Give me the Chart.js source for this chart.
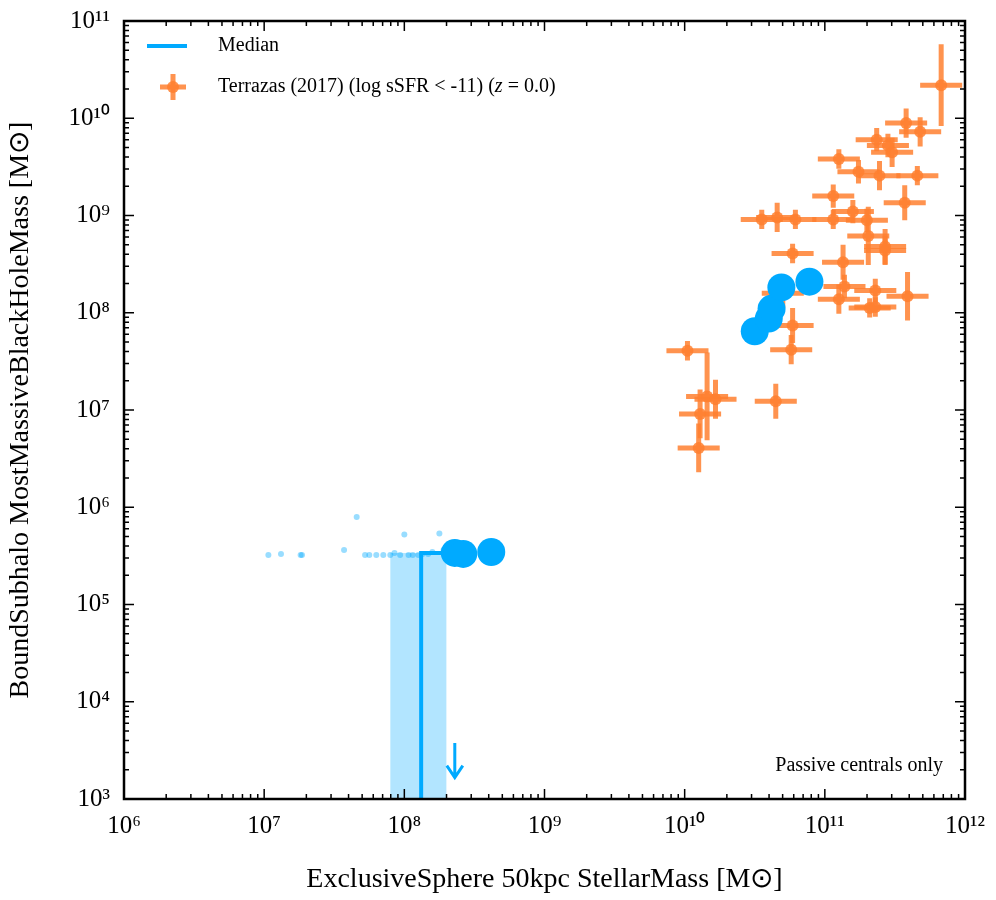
<!DOCTYPE html>
<html><head><meta charset="utf-8">
<script src="https://cdn.jsdelivr.net/npm/chart.js@4"></script>
<style>body{margin:0;background:#fff}#wrap{width:996px;height:900px}</style>
</head><body><div id="wrap"><canvas id="c" width="996" height="900"></canvas></div>
<script>
const obsLogM = [11.83,11.58,11.68,11.37,11.48,11.45,11.10,11.24,11.39,11.66,11.57,11.06,11.20,10.55,10.66,10.79,11.06,11.30,11.31,11.43,10.77,11.13,11.43,11.14,11.36,11.59,11.10,11.32,11.36,10.77,10.76,10.02,10.16,10.22,10.11,10.65,10.10,10.70];
const obsLogBH = [10.34,9.95,9.86,9.78,9.65,9.72,9.58,9.45,9.41,9.41,9.13,9.20,9.04,8.96,8.98,8.96,8.96,8.95,8.79,8.64,8.61,8.52,8.68,8.27,8.23,8.17,8.14,8.05,8.06,7.87,7.62,7.61,7.14,7.11,6.96,7.09,6.61,8.20];
const obsXErr = [0.15,0.15,0.15,0.15,0.15,0.15,0.15,0.15,0.15,0.15,0.15,0.15,0.15,0.15,0.15,0.15,0.15,0.15,0.15,0.15,0.15,0.15,0.15,0.15,0.15,0.15,0.15,0.15,0.15,0.15,0.15,0.15,0.15,0.15,0.15,0.15,0.15,0.15];
const obsYErr = [0.42,0.15,0.15,0.12,0.15,0.12,0.10,0.12,0.15,0.10,0.18,0.12,0.12,0.10,0.15,0.10,0.10,0.12,0.30,0.15,0.10,0.18,0.18,0.12,0.12,0.25,0.15,0.10,0.10,0.18,0.15,0.10,0.45,0.20,0.25,0.18,0.25,0.15];
// simulation points
const bigLogM = [10.50,10.60,10.62,10.69,10.89,8.36,8.42,8.62];
const bigLogBH = [7.81,7.94,8.04,8.26,8.32,5.53,5.52,5.54];
const smallLogM = [7.03,7.12,7.26,7.27,7.57,7.66,7.72,7.75,7.80,7.85,7.90,7.93,7.97,8.00,8.03,8.06,8.10,8.13,8.17,8.20,8.25,8.28,8.33,8.37];
const smallLogBH = [5.51,5.52,5.51,5.51,5.56,5.90,5.51,5.51,5.51,5.51,5.51,5.53,5.51,5.72,5.51,5.51,5.51,5.52,5.52,5.54,5.73,5.56,5.52,5.53];
// median and 16-84 band
const medLogM = [8.12,8.12,8.36];
const medLogBH = [3.0,5.53,5.53];
const bandLogM = [7.90,8.30];
const arrowLogM = 8.36, arrowLogBH = [5.58,3.2];
const ORANGE = 'rgba(255,128,48,0.85)', BLUE = '#00aaff';
const sup = {'0':'⁰','1':'¹','2':'²','3':'³','4':'⁴','5':'⁵','6':'⁶','7':'⁷','8':'⁸','9':'⁹'};
const P = (lx, ly) => ({x: Math.pow(10, lx), y: Math.pow(10, ly)});

const overlay = {
  id: 'overlay',
  beforeDatasetsDraw(ch) {
    const {ctx, scales: {x, y}, chartArea: a} = ch;
    ctx.save();
    ctx.fillStyle = 'rgba(0,170,255,0.3)';
    const x0 = x.getPixelForValue(10 ** bandLogM[0]), x1 = x.getPixelForValue(10 ** bandLogM[1]);
    const yt = y.getPixelForValue(10 ** medLogBH[1]);
    ctx.fillRect(x0, yt, x1 - x0, a.bottom - yt);
    // error bars
    ctx.strokeStyle = ORANGE; ctx.lineWidth = 5;
    obsLogM.forEach((m, i) => {
      const b = obsLogBH[i];
      const px = x.getPixelForValue(10 ** m), py = y.getPixelForValue(10 ** b);
      ctx.beginPath();
      ctx.moveTo(x.getPixelForValue(10 ** (m - obsXErr[i])), py);
      ctx.lineTo(x.getPixelForValue(10 ** (m + obsXErr[i])), py);
      ctx.moveTo(px, y.getPixelForValue(10 ** (b - obsYErr[i])));
      ctx.lineTo(px, y.getPixelForValue(10 ** (b + obsYErr[i])));
      ctx.stroke();
    });
    ctx.restore();
  },
  afterDraw(ch) {
    const {ctx, scales: {x, y}, chartArea: a} = ch;
    ctx.save();
    // arrow
    const ax = x.getPixelForValue(10 ** arrowLogM);
    const ay0 = y.getPixelForValue(10 ** arrowLogBH[0]) + 190, ay1 = y.getPixelForValue(10 ** arrowLogBH[1]) ;
    ctx.strokeStyle = BLUE; ctx.lineWidth = 3;
    ctx.beginPath(); ctx.moveTo(ax, 743); ctx.lineTo(ax, ay1 - 2);
    ctx.moveTo(ax - 8, ay1 - 14); ctx.lineTo(ax, ay1 - 2); ctx.lineTo(ax + 8, ay1 - 14); ctx.stroke();
    // frame
    ctx.strokeStyle = '#000'; ctx.lineWidth = 2.5;
    ctx.strokeRect(a.left, a.top, a.right - a.left, a.bottom - a.top);
    // ticks
    ctx.lineWidth = 1.5;
    for (let d = 6; d < 12; d++) for (let k = 1; k < 10; k++) {
      const px = x.getPixelForValue(k * 10 ** d), L = k === 1 ? 10 : 5;
      ctx.beginPath(); ctx.moveTo(px, a.bottom); ctx.lineTo(px, a.bottom - L);
      ctx.moveTo(px, a.top); ctx.lineTo(px, a.top + L); ctx.stroke();
    }
    for (let d = 3; d < 11; d++) for (let k = 1; k < 10; k++) {
      const py = y.getPixelForValue(k * 10 ** d), L = k === 1 ? 10 : 5;
      ctx.beginPath(); ctx.moveTo(a.left, py); ctx.lineTo(a.left + L, py);
      ctx.moveTo(a.right, py); ctx.lineTo(a.right - L, py); ctx.stroke();
    }
    // legend
    ctx.font = '20px "Liberation Serif"'; ctx.fillStyle = '#000'; ctx.textBaseline = 'middle';
    ctx.strokeStyle = BLUE; ctx.lineWidth = 4;
    ctx.beginPath(); ctx.moveTo(147, 46); ctx.lineTo(187, 46); ctx.stroke();
    ctx.fillText('Median', 218, 46);
    ctx.strokeStyle = ORANGE; ctx.lineWidth = 5;
    ctx.beginPath(); ctx.moveTo(160, 87); ctx.lineTo(186, 87); ctx.moveTo(173, 74); ctx.lineTo(173, 100); ctx.stroke();
    ctx.fillStyle = ORANGE; ctx.beginPath(); ctx.arc(173, 87, 6, 0, 7); ctx.fill();
    ctx.fillStyle = '#000';
    let t = 'Terrazas (2017) (log sSFR < -11) (';
    ctx.fillText(t, 218, 87);
    let w = ctx.measureText(t).width;
    ctx.font = 'italic 20px "Liberation Serif"'; ctx.fillText('z', 218 + w, 87);
    w += ctx.measureText('z').width;
    ctx.font = '20px "Liberation Serif"'; ctx.fillText(' = 0.0)', 218 + w, 87);
    ctx.textAlign = 'right';
    ctx.fillText('Passive centrals only', 943, 766);
    ctx.restore();
  }
};

new Chart(document.getElementById('c'), {
  type: 'scatter',
  data: {datasets: [
    {data: medLogM.map((m, i) => P(m, medLogBH[i])), showLine: true, borderColor: BLUE, borderWidth: 4, pointRadius: 0, order: 3},
    {data: smallLogM.map((m, i) => P(m, smallLogBH[i])), backgroundColor: 'rgba(0,170,255,0.4)', borderWidth: 0, pointRadius: 3, order: 2},
    {data: obsLogM.map((m, i) => P(m, obsLogBH[i])), backgroundColor: ORANGE, borderWidth: 0, pointRadius: 6, order: 4},
    {data: bigLogM.map((m, i) => P(m, bigLogBH[i])), backgroundColor: BLUE, borderWidth: 0, pointRadius: 14, order: 1}
  ]},
  options: {
    responsive: false, animation: false, events: [],
    layout: {padding: {top: 15, right: 31, left: 0, bottom: 0}},
    plugins: {legend: {display: false}, tooltip: {enabled: false}},
    scales: {
      x: {type: 'logarithmic', min: 1e6, max: 1e12,
        afterFit: s => { s.height = 101; },
        afterBuildTicks: s => { s.ticks = [6,7,8,9,10,11,12].map(d => ({value: 10 ** d})); },
        grid: {display: false}, border: {display: false},
        ticks: {color: '#000', font: {family: 'Liberation Serif', size: 25}, padding: 4, maxRotation: 0,
          callback: v => '10' + String(Math.round(Math.log10(v))).split('').map(c => sup[c]).join('')},
        title: {display: true, text: 'ExclusiveSphere 50kpc StellarMass [M\u2299]', color: '#000', font: {family: 'Liberation Serif', size: 28}, padding: {top: 6}}},
      y: {type: 'logarithmic', min: 1e3, max: 1e11,
        afterFit: s => { s.width = 124; },
        afterBuildTicks: s => { s.ticks = [3,4,5,6,7,8,9,10,11].map(d => ({value: 10 ** d})); },
        grid: {display: false}, border: {display: false},
        ticks: {color: '#000', font: {family: 'Liberation Serif', size: 25}, padding: 6,
          callback: v => '10' + String(Math.round(Math.log10(v))).split('').map(c => sup[c]).join('')},
        title: {display: true, text: 'BoundSubhalo MostMassiveBlackHoleMass [M\u2299]', color: '#000', font: {family: 'Liberation Serif', size: 28}, padding: {bottom: 4}}}
    }
  },
  plugins: [overlay]
});
</script></body></html>
